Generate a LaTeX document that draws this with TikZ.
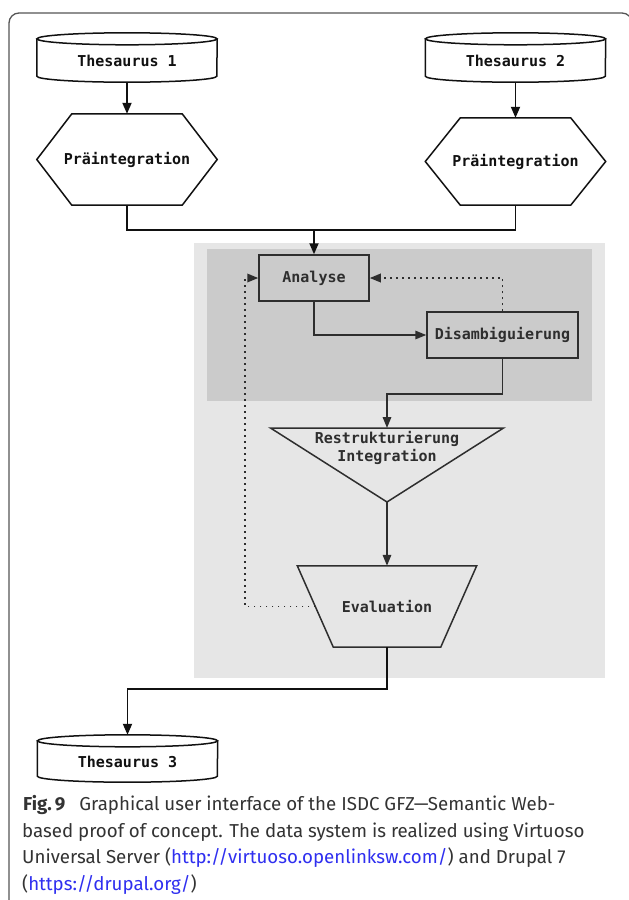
\documentclass[tikz,border=0pt]{standalone}
\usepackage{fontspec}
\setmainfont{Fira Sans}
\newfontfamily\diafont{DejaVu Sans Mono}
\usetikzlibrary{arrows.meta,calc}
\definecolor{bgouter}{HTML}{E6E6E6}
\definecolor{bginner}{HTML}{CBCBCB}
\definecolor{ink}{HTML}{111111}
\definecolor{inkg}{HTML}{2E2E2E}
\definecolor{capc}{HTML}{333333}
\definecolor{linkc}{HTML}{2F2FF0}
\definecolor{framec}{HTML}{555555}
\newcommand\cylout[1]{%
  \draw[shp] (#1.north west) -- ([yshift=6pt]#1.south west)
    arc[start angle=180,end angle=360,x radius=90pt,y radius=6pt] -- (#1.north east);
  \draw[shp] (#1.north) ellipse [x radius=90pt, y radius=6pt];}
\newcommand\hexout[1]{%
  \draw[shp] ([xshift=35pt]#1.north west) -- ([xshift=-35pt]#1.north east) -- (#1.east)
    -- ([xshift=-35pt]#1.south east) -- ([xshift=35pt]#1.south west) -- (#1.west) -- cycle;}
\begin{document}
\begin{tikzpicture}[x=1pt,y=-1pt,
  every node/.style={font=\diafont\bfseries\fontsize{15}{18}\selectfont, text=ink, inner sep=0pt},
  cylbox/.style={minimum width=180, minimum height=43},
  hexbox/.style={minimum width=180},
  gbox/.style={draw=inkg, line width=1.5pt, text=inkg},
  glbl/.style={text=inkg},
  shp/.style={draw=ink, line width=1.5pt},
  gshp/.style={draw=inkg, line width=1.5pt},
  conn/.style={draw=ink, line width=1.8pt, -{Triangle[length=11pt,width=9pt]}},
  gconn/.style={draw=inkg, line width=1.6pt, -{Triangle[length=11pt,width=8.5pt]}},
  dotconn/.style={draw=inkg, line width=1.8pt, dash pattern=on 1.8pt off 4.2pt, -{Triangle[length=11pt,width=8.5pt]}},
  plainline/.style={draw=ink, line width=1.8pt},
  captext/.style={font=\fontsize{18.7}{22}\selectfont, text=capc, anchor=base west}]
\useasboundingbox (0,0) rectangle (629,900);
\fill[white] (0,0) rectangle (629,900);
% frame
\draw[framec, line width=1.3pt, rounded corners=10pt] (9,905) -- (9,13) -- (632,13) -- (632,905);
% grey regions
\fill[bgouter] (194,243) rectangle (605,678);
\fill[bginner] (207,249) rectangle (592,401);

% top sources
\node[cylbox] (t1) at (127,60.5) {Thesaurus 1};
\node[cylbox] (t2) at (515.5,60.5) {Thesaurus 2};
\cylout{t1}
\cylout{t2}
\node[hexbox, minimum height=91] (h1) at (127,159.5) {Präintegration};
\node[hexbox, minimum height=87] (h2) at (515.5,161.5) {Präintegration};
\hexout{h1}
\hexout{h2}
\draw[conn] (t1.south) -- (h1.north);
\draw[conn] (t2.south) -- (h2.north);

% process nodes
\node[gbox, minimum width=110, minimum height=46] (an) at (314,278) {Analyse};
\node[gbox, minimum width=151, minimum height=46] (di) at (502.5,335) {Disambiguierung};
\node[glbl, align=center, anchor=north, inner ysep=3pt] (tr) at (387,428) {Restrukturierung\\Integration};
\coordinate (trb) at ($(tr.north)+(0,74)$);
\draw[gshp] ([xshift=-116.5pt]tr.north) -- ([xshift=116.5pt]tr.north) -- (trb) -- cycle;
\node[glbl, minimum width=179, minimum height=81] (ev) at (387,606.5) {Evaluation};
\draw[gshp] (ev.north west) -- (ev.north east) -- ([xshift=-36pt]ev.south east)
  -- ([xshift=36pt]ev.south west) -- cycle;
\coordinate (evl) at ($(ev.west)+(18,0)$);
\coordinate (lp) at (245,278);
\node[cylbox, minimum height=41] (t3) at (127.5,761.5) {Thesaurus 3};
\cylout{t3}

% merge
\coordinate (j) at (314,230);
\draw[plainline] (h1.south) |- (j);
\draw[plainline] (h2.south) |- (j);
\draw[conn] (j) -- (an.north);

% inner connectors
\draw[gconn] (an.south) |- (di.west);
\draw[dotconn] (di.north) |- (an.east);
\draw[gconn] (di.south) -- ++(0,35) -| (tr.north);
\draw[gconn] (trb) -- (ev.north);
\draw[dotconn] (evl) -| (lp) -- (an.west);
\draw[conn] (ev.south) -- ++(0,42) -| ([yshift=6pt]t3.north);

% caption
\node[captext] (c1) at (23,810) {\textbf{Fig.\,9}\hspace{0.75em}Graphical user interface of the ISDC GFZ—Semantic Web-};
\node[captext] (c2) at (22,837) {based proof of concept. The data system is realized using Virtuoso};
\node[captext] (c3) at (22,863) {Universal Server (\textcolor{linkc}{http://virtuoso.openlinksw.com/}) and Drupal 7};
\node[captext] (c4) at (22,890) {(\textcolor{linkc}{https://drupal.org/})};
\end{tikzpicture}
\end{document}
